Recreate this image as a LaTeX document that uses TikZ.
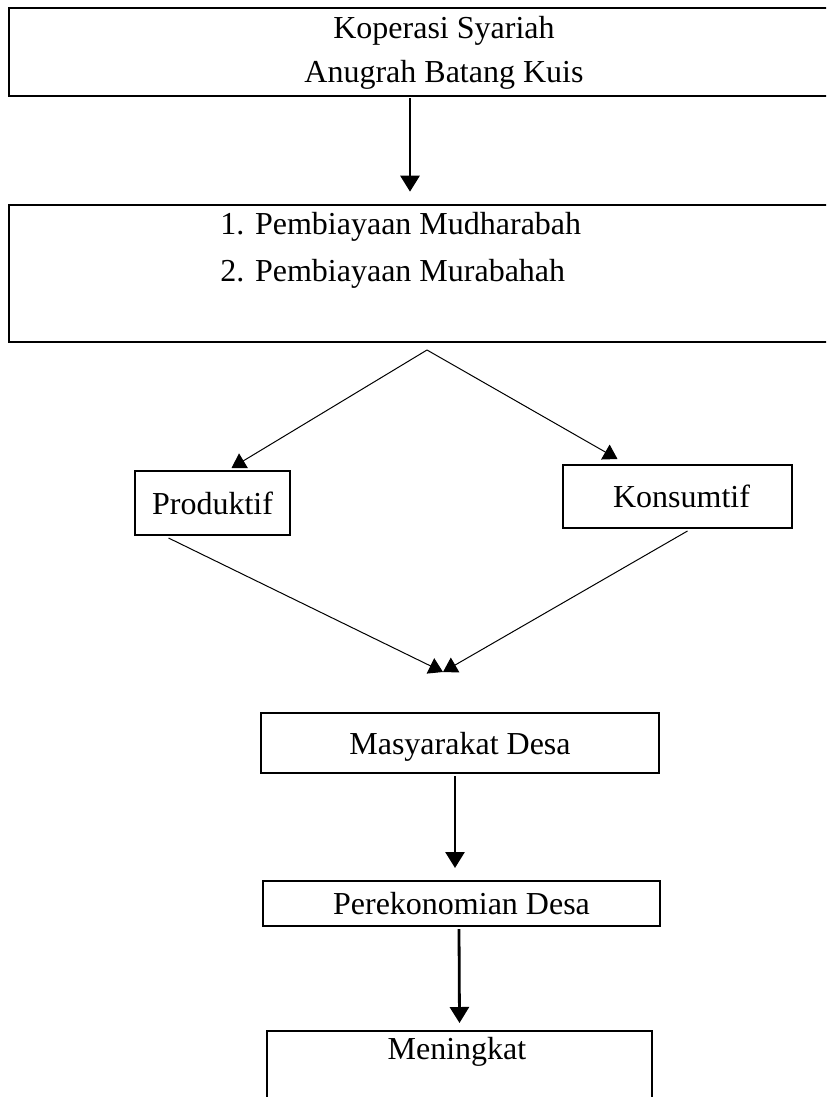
\documentclass[tikz,border=0pt]{standalone}
\usepackage{fontspec}
\setmainfont{Liberation Serif}
\usetikzlibrary{calc}
\usetikzlibrary{arrows.meta}

\tikzset{
  bigbox/.style={draw, line width=1.3pt, inner sep=0pt},
  flowbox/.style={draw, line width=1pt, inner sep=0pt, font=\fontsize{16}{22}\selectfont},
  txt/.style={inner sep=0pt, font=\fontsize{16}{22}\selectfont},
  thickarrow/.style={-{Triangle[length=8pt,width=9.5pt]}, line width=1.4pt},
  thinarrow/.style={-{Triangle[length=7pt,width=8.5pt]}, line width=0.5pt},
}

\begin{document}
\begin{tikzpicture}[x=0.5pt, y=-0.5pt]
    \useasboundingbox (0,0) rectangle (826,1097);
    \clip (0,0) rectangle (826,1097);
    % wide boxes, open on the right
    \node[bigbox, minimum width=417pt, minimum height=44pt] (koperasi) at (426,52) {};
    \node[txt, align=center] (koperasitext) at (444,53) {Koperasi Syariah\\Anugrah Batang Kuis};
    \node[bigbox, minimum width=417pt, minimum height=68.5pt] (pembiayaan) at (426,273.5) {};
    \node[txt, align=left, anchor=west, font=\fontsize{16}{23.5}\selectfont] (pembiayaantext) at (220,250.5) {1. Pembiayaan Mudharabah\\2. Pembiayaan Murabahah};
    \coordinate (split) at (427,350);
    % two kinds
    \node[flowbox, minimum width=77.5pt, minimum height=32pt] (produktif) at (212.5,503) {Produktif};
    \node[flowbox, minimum width=114.5pt, minimum height=31.5pt] (konsumtif) at (677.5,496.5) {\hspace{4pt}Konsumtif};
    \coordinate (meet) at (443,672);
    % lower chain
    \node[flowbox, minimum width=199pt, minimum height=30pt, text depth=-2pt] (masyarakat) at (460,743) {Masyarakat Desa};
    \node[flowbox, minimum width=198.5pt, minimum height=22.5pt] (perekonomian) at (461.5,903.5) {Perekonomian Desa};
    \node[flowbox, minimum width=192.5pt, minimum height=45pt, anchor=north] (meningkat) at (459.5,1030) {};
    \node[txt] (meningkattext) at (457,1052) {Meningkat};
    % connectors
    \draw[thickarrow] ($(koperasi.south)+(-16,1)$) -- ($(pembiayaan.north)+(-16,-12)$);
    \draw[thinarrow] (split) -- ($(produktif.north)+(19,-2)$);
    \draw[thinarrow] (split) -- ($(konsumtif.north)+(-60,-5)$);
    \draw[thinarrow] ($(produktif.south)+(-44,2)$) -- (meet);
    \draw[thinarrow] ($(konsumtif.south)+(10,2)$) -- (meet);
    \draw[thickarrow] ($(masyarakat.south)+(-5,2)$) -- ($(perekonomian.north)+(-6.5,-12)$);
    \draw[thickarrow] ($(perekonomian.south)+(-2.5,2)$) -- ($(meningkat.north)+(0,-7)$);
\end{tikzpicture}
\end{document}
